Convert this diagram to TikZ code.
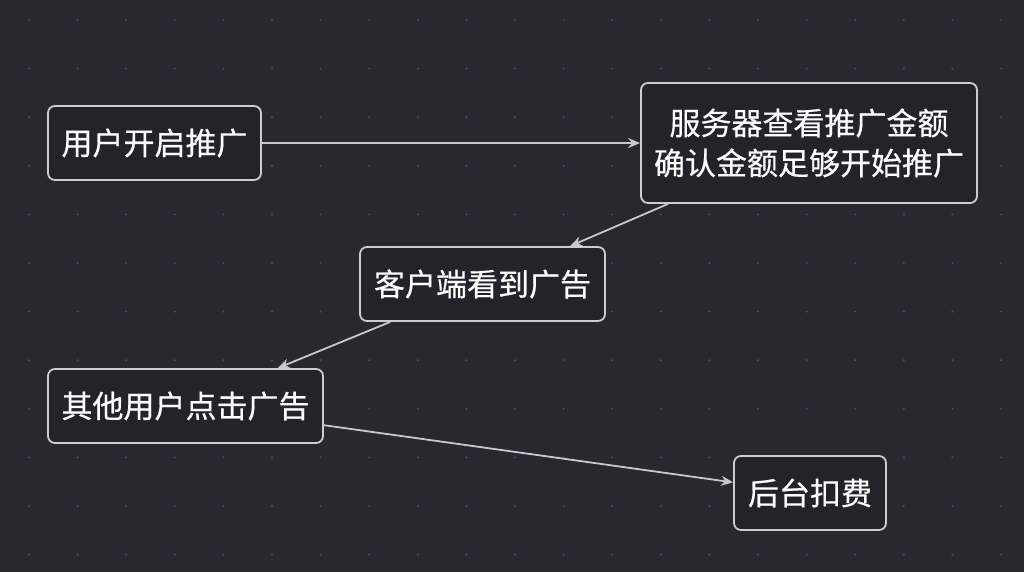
\documentclass[tikz,border=0pt]{standalone}
\usepackage{fontspec}
\newfontfamily\cjk[FakeBold=0.5]{Noto Sans CJK SC}
\usetikzlibrary{arrows.meta}
\definecolor{bg}{RGB}{41,39,48}
\definecolor{boxfill}{RGB}{36,34,42}
\definecolor{boxline}{RGB}{205,205,208}
\definecolor{dotc}{RGB}{78,76,88}
\definecolor{arrowc}{RGB}{200,200,204}
\tikzset{
  flowbox/.style={draw=boxline, line width=1.8pt, fill=boxfill, rounded corners=7pt,
    inner sep=0pt, align=center, text=white,
    font=\cjk\fontsize{31}{40}\selectfont},
  flowarrow/.style={draw=arrowc, line width=1.8pt,
    -{Stealth[length=12pt,width=10pt,inset=4pt]}}
}
\begin{document}
\begin{tikzpicture}[x=1pt,y=-1pt]
\useasboundingbox (0,0) rectangle (1024,572);
\fill[bg] (0,0) rectangle (1024,572);
\foreach \i in {0,...,20}{
  \foreach \j in {0,...,11}{
    \fill[dotc] (29+48.6*\i,20+48.6*\j) circle (1.1pt);
  }
}
\node[flowbox, minimum width=213pt, minimum height=74pt] (n1) at (154.5,143) {用户开启推广};
\node[flowbox, minimum width=336pt, minimum height=120pt] (n2) at (809,143) {服务器查看推广金额\\确认金额足够开始推广};
\node[flowbox, minimum width=245pt, minimum height=74pt] (n3) at (482.5,284) {客户端看到广告};
\node[flowbox, minimum width=275pt, minimum height=74pt] (n4) at (185.5,406) {其他用户点击广告};
\node[flowbox, minimum width=152pt, minimum height=74pt] (n5) at (810,493) {后台扣费};
\draw[flowarrow] (n1) -- (n2);
\draw[flowarrow] (n2) -- (n3);
\draw[flowarrow] (n3) -- (n4);
\draw[flowarrow] (n4) -- (n5);
\end{tikzpicture}
\end{document}
